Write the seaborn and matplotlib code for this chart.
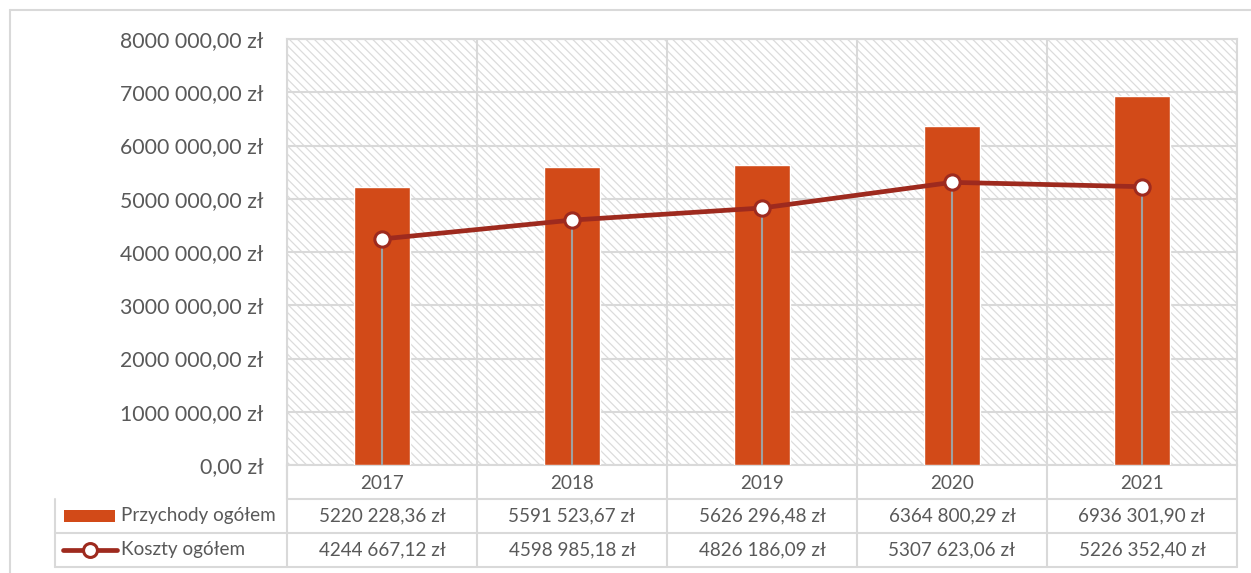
import matplotlib
matplotlib.use("Agg")
import matplotlib.pyplot as plt
import seaborn as sns
import pandas as pd
from matplotlib.patches import Rectangle
from matplotlib.lines import Line2D
from matplotlib.ticker import FuncFormatter, MultipleLocator

years = ["2017", "2018", "2019", "2020", "2021"]
przychody = [5220228.36, 5591523.67, 5626296.48, 6364800.29, 6936301.90]
koszty = [4244667.12, 4598985.18, 4826186.09, 5307623.06, 5226352.40]
series_names = ["Przychody ogółem", "Koszty ogółem"]

BAR = "#D24A18"
LINE = "#9E2A1E"
GRID = "#D9D9D9"
TXT = "#595959"

sns.set_theme(style="white")
plt.rcParams["font.family"] = ["Lato", "DejaVu Sans"]
plt.rcParams["hatch.color"] = "#DCDCDC"
plt.rcParams["hatch.linewidth"] = 0.9


def pln(v, pos=None):
    s = f"{v:.2f}"
    ip, dec = s.split(".")
    if len(ip) > 3:
        ip = ip[:-3] + " " + ip[-3:]
    return f"{ip},{dec} zł"


df = pd.DataFrame({"rok": years, "przychody": przychody, "koszty": koszty})

fig = plt.figure(figsize=(12.51, 5.73), dpi=100)
W, H = 1251, 573
ax = fig.add_axes([287 / W, 1 - 465 / H, (1237 - 287) / W, (465 - 39) / H])

# hatched plot background
ax.add_patch(Rectangle((0, 0), 1, 1, transform=ax.transAxes, facecolor="white",
                       edgecolor="#DCDCDC", hatch="\\\\\\\\", lw=0, zorder=0))

sns.barplot(data=df, x="rok", y="przychody", color=BAR, width=0.29,
            saturation=1, ax=ax, zorder=3)

pos = range(len(years))
ax.vlines(list(pos), 0, koszty, color="#A0A0A0", lw=1.5, zorder=4)
sns.pointplot(data=df, x="rok", y="koszty", color=LINE, errorbar=None,
              markers="o", markersize=11, markerfacecolor="white",
              markeredgecolor=LINE, markeredgewidth=2.2, linewidth=3.4,
              ax=ax, zorder=5)

ax.set_xlim(-0.5, len(years) - 0.5)
ax.set_ylim(0, 8000000)
ax.yaxis.set_major_locator(MultipleLocator(1000000))
ax.yaxis.set_major_formatter(FuncFormatter(pln))
ax.set_xlabel("")
ax.set_ylabel("")
ax.tick_params(axis="y", length=0, pad=17, labelsize=15.3, labelcolor=TXT)
ax.tick_params(axis="x", length=0, pad=7.5, labelsize=13.6, labelcolor=TXT)
ax.set_xticks(list(pos))
ax.set_xticks([p - 0.5 for p in range(len(years) + 1)], minor=True)
ax.grid(axis="y", which="major", color=GRID, lw=1.5, zorder=1)
ax.grid(axis="x", which="minor", color=GRID, lw=1.5, zorder=1)
ax.grid(axis="x", which="major", visible=False)
ax.set_axisbelow(True)
for sp in ax.spines.values():
    sp.set_color(GRID)
    sp.set_linewidth(1.5)

# data table under the axis
tr = ax.get_xaxis_transform()
rh = 34 / (465 - 39)
left = -0.5 - 232 / 190
right = len(years) - 0.5
tab_kw = dict(color=GRID, lw=1.5, transform=tr, clip_on=False)
ax.plot([-0.5, -0.5], [0, -rh], **tab_kw)
for i in range(1, 4):
    x0 = -0.5 if i == 1 else left
    ax.plot([x0, right], [-i * rh, -i * rh], **tab_kw)
ax.plot([left, left], [-rh, -3 * rh], **tab_kw)
for b in range(len(years) + 1):
    ax.plot([b - 0.5, b - 0.5], [0, -3 * rh], **tab_kw)

for r, vals in enumerate([przychody, koszty]):
    yc = -(r + 1.5) * rh
    for p, v in zip(pos, vals):
        ax.text(p, yc, pln(v), transform=tr, ha="center", va="center",
                fontsize=13.6, color=TXT)
    ax.text(left + 66 / 190, yc, series_names[r], transform=tr, ha="left",
            va="center", fontsize=13.6, color=TXT)

# legend keys inside the row labels
ax.add_patch(Rectangle((left + 9 / 190, -1.5 * rh - 6 / 426), 51 / 190, 12 / 426,
                       transform=tr, facecolor=BAR, lw=0, clip_on=False))
ax.add_line(Line2D([left + 8 / 190, left + 62 / 190], [-2.5 * rh, -2.5 * rh],
                   transform=tr, color=LINE, lw=3.4, clip_on=False))
ax.add_line(Line2D([left + 35 / 190], [-2.5 * rh], transform=tr, marker="o",
                   markersize=10, markerfacecolor="white", markeredgecolor=LINE,
                   markeredgewidth=2.2, clip_on=False))

# outer chart frame
fig.add_artist(Line2D([10 / W, 10 / W], [0, 1 - 10 / H], color=GRID, lw=1.5))
fig.add_artist(Line2D([10 / W, 1], [1 - 10 / H, 1 - 10 / H], color=GRID, lw=1.5))

fig.savefig("out.png", dpi=100)
